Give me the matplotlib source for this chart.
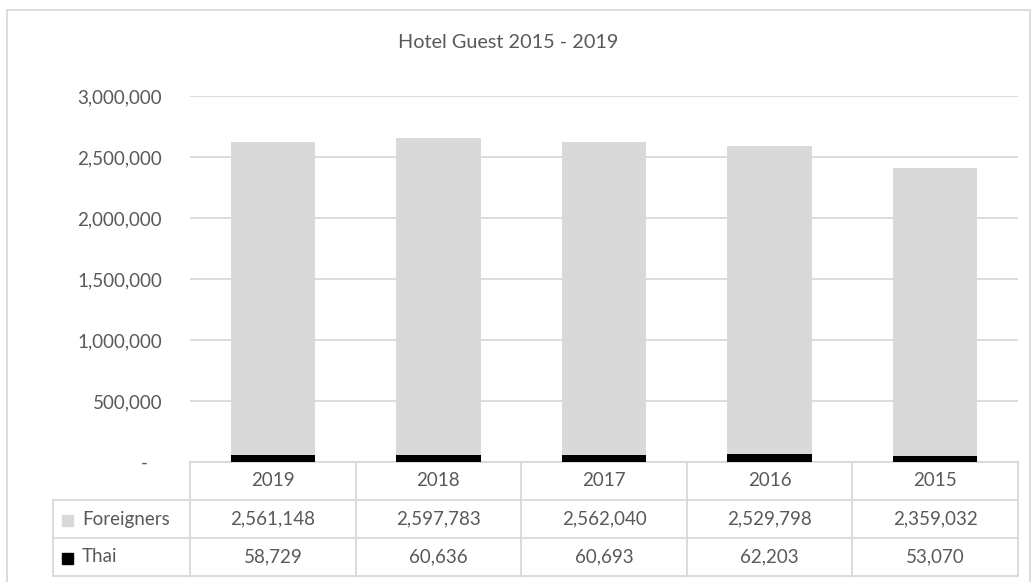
import matplotlib.pyplot as plt
from matplotlib.patches import Rectangle
from matplotlib.transforms import blended_transform_factory

years = ["2019", "2018", "2017", "2016", "2015"]
foreigners = [2561148, 2597783, 2562040, 2529798, 2359032]
thai = [58729, 60636, 60693, 62203, 53070]
series_names = ["Foreigners", "Thai"]
yticks = [0, 500000, 1000000, 1500000, 2000000, 2500000, 3000000]

grey = "#d9d9d9"
txt = "#595959"
plt.rcParams['font.family'] = ['Lato', 'DejaVu Sans']

W, H = 1032, 582
fig = plt.figure(figsize=(W / 100, H / 100), dpi=100)

# chart border (bottom edge falls outside the image)
fig.patches.append(Rectangle((7 / W, -0.05), 1023 / W, (H - 10) / H + 0.05,
                             transform=fig.transFigure, fill=False,
                             edgecolor=grey, linewidth=1.3))

ax = fig.add_axes([190 / W, (H - 462) / H, 828 / W, 366 / H])
x = list(range(len(years)))
ax.bar(x, thai, width=0.51, color="black", zorder=3)
ax.bar(x, foreigners, width=0.51, bottom=thai, color=grey, zorder=3)

ax.set_xlim(-0.5, len(years) - 0.5)
ax.set_ylim(0, 3000000)
ax.set_yticks(yticks)
ax.set_yticklabels([f"{v:,}" if v else "-   " for v in yticks])
ax.tick_params(axis="y", length=0, pad=20, labelsize=13.5, labelcolor=txt)
ax.set_xticks([])
ax.yaxis.grid(True, color=grey, linewidth=1.3, zorder=0)
for s in ax.spines.values():
    s.set_visible(False)

fig.text(508 / W, (H - 42) / H, "Hotel Guest 2015 - 2019", ha="center", va="center",
         fontsize=14.3, color=txt)

# data table
tr = blended_transform_factory(ax.transData, ax.transAxes)
rh = 38 / 366
cw = 828 / 5
left = -0.5 - (190 - 53) / cw
kw = dict(transform=tr, clip_on=False, color=grey, linewidth=1.3)

ax.plot([-0.5, len(years) - 0.5], [0, 0], **kw)
for r in range(1, 4):
    ax.plot([left, len(years) - 0.5], [-r * rh, -r * rh], **kw)
for i in range(len(years) + 1):
    ax.plot([i - 0.5, i - 0.5], [0, -3 * rh], **kw)
ax.plot([left, left], [-rh, -3 * rh], **kw)

for i, yr in enumerate(years):
    ax.text(i, -0.5 * rh, yr, transform=tr, ha="center", va="center",
            fontsize=13.5, color=txt)
    ax.text(i, -1.5 * rh, f"{foreigners[i]:,}", transform=tr, ha="center",
            va="center", fontsize=13.5, color=txt)
    ax.text(i, -2.5 * rh, f"{thai[i]:,}", transform=tr, ha="center",
            va="center", fontsize=13.5, color=txt)

for r, (name, col) in enumerate(zip(series_names, [grey, "black"])):
    yc = -(1.5 + r) * rh
    ax.add_patch(Rectangle((left + 9 / cw, yc - 6.5 / 366), 11 / cw, 11 / 366,
                           transform=tr, clip_on=False, color=col))
    ax.text(left + 29 / cw, yc, name, transform=tr, ha="left",
            va="center", fontsize=13.5, color=txt)

fig.savefig("out.png", dpi=100)
